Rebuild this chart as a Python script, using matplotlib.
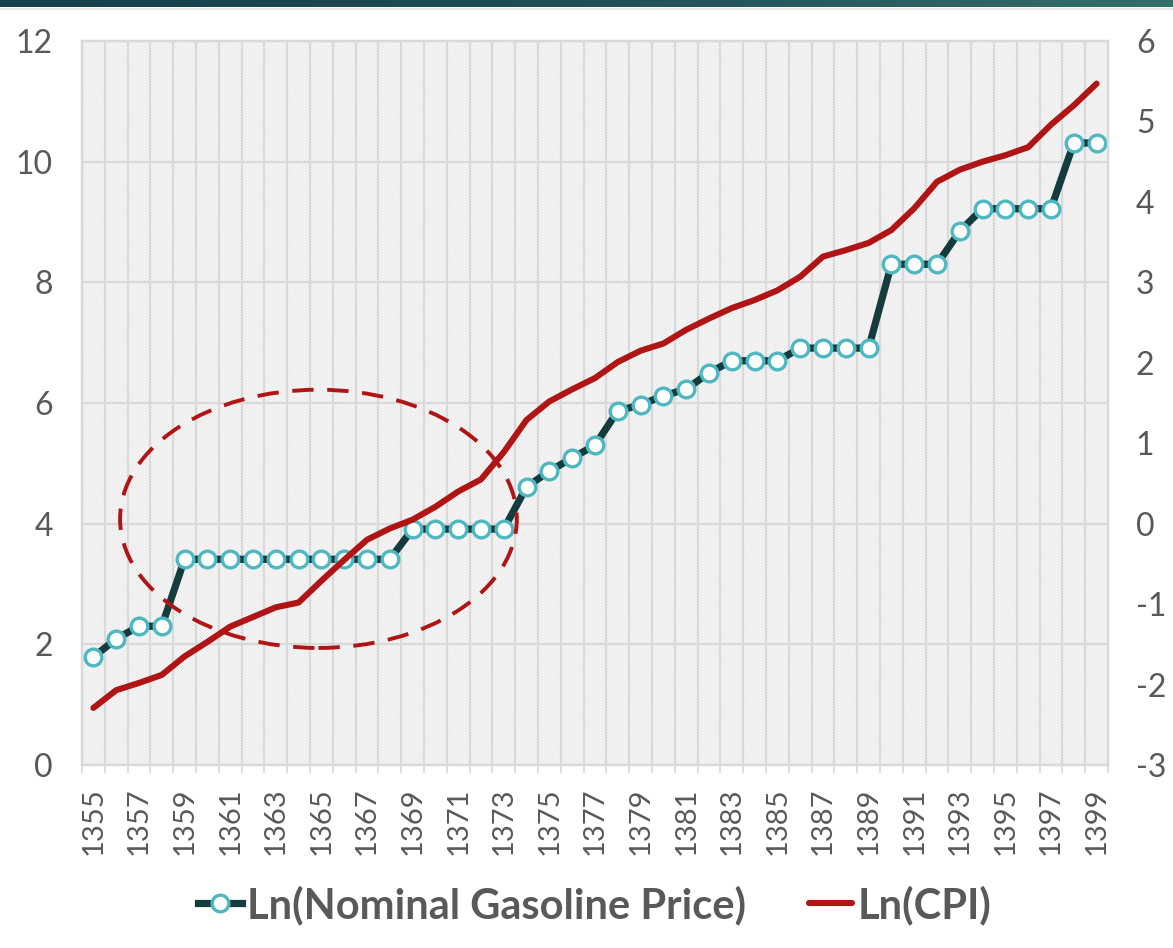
import numpy as np
import matplotlib
matplotlib.use('Agg')
import matplotlib.pyplot as plt
from matplotlib.patches import Ellipse, Rectangle
from matplotlib.colors import LinearSegmentedColormap

# Data
years = list(range(1355, 1400))
ln_gasoline = [1.79, 2.09, 2.30, 2.30, 3.41, 3.41, 3.41, 3.41, 3.41, 3.41,
               3.41, 3.41, 3.41, 3.41, 3.91, 3.91, 3.91, 3.91, 3.91, 4.61,
               4.87, 5.09, 5.30, 5.87, 5.97, 6.12, 6.23, 6.50, 6.70, 6.70,
               6.70, 6.91, 6.91, 6.91, 6.91, 8.30, 8.30, 8.30, 8.85, 9.22,
               9.22, 9.22, 9.22, 10.31, 10.31]
ln_cpi = [-2.29, -2.07, -1.98, -1.88, -1.65, -1.47, -1.28, -1.16, -1.04, -0.98,
          -0.71, -0.45, -0.20, -0.06, 0.05, 0.21, 0.40, 0.55, 0.89, 1.29,
          1.52, 1.67, 1.81, 2.01, 2.15, 2.24, 2.41, 2.55, 2.68, 2.78,
          2.90, 3.07, 3.32, 3.40, 3.49, 3.65, 3.92, 4.25, 4.40, 4.50,
          4.58, 4.68, 4.96, 5.20, 5.47]
left_ticks = [0, 2, 4, 6, 8, 10, 12]
right_ticks = [-3, -2, -1, 0, 1, 2, 3, 4, 5, 6]

font = ['Lato', 'DejaVu Sans']
plt.rcParams['font.family'] = font
plt.rcParams['axes.unicode_minus'] = False
plt.rcParams['hatch.linewidth'] = 0.6
plt.rcParams['hatch.color'] = '#DEDEDE'

W, H = 1173, 948
fig = plt.figure(figsize=(W / 100, H / 100), dpi=100)
fig.patch.set_facecolor('white')

# top gradient bar
bar = fig.add_axes([0, 1 - 7 / H, 1, 7 / H])
cmap = LinearSegmentedColormap.from_list('bar', ['#163E4C', '#1F4F58', '#356F69'])
bar.imshow(np.linspace(0, 1, 256)[None, :], aspect='auto', cmap=cmap)
bar.axis('off')
fig.add_artist(plt.Line2D([0, 1], [1 - 8.5 / H, 1 - 8.5 / H], color='#E3E3E3', lw=1.2))

ax = fig.add_axes([82 / W, 1 - 765 / H, (1108 - 82) / W, (765 - 41) / H])
ax2 = ax.twinx()

x = np.arange(len(years))
grid_c = '#D9D9D9'
text_c = '#595959'

# hatched plot background
ax.add_patch(Rectangle((0, 0), 1, 1, transform=ax.transAxes, facecolor='white',
                       edgecolor='#DEDEDE', hatch='\\' * 12, linewidth=0, zorder=0))

ax.set_xlim(-0.5, len(years) - 0.5)
ax.set_ylim(0, 12)
ax2.set_ylim(-3, 6)

ax.set_yticks(left_ticks)
ax2.set_yticks(right_ticks)
ax.set_xticks(x[::2])
ax.set_xticklabels([str(y) for y in years[::2]], rotation=90)
ax.set_xticks(np.arange(-0.5, len(years), 1), minor=True)

ax.set_axisbelow(True)
ax.grid(axis='y', color=grid_c, lw=1.6, zorder=1)
ax.grid(axis='x', which='minor', color=grid_c, lw=1.6, zorder=1)

for a in (ax, ax2):
    for s in a.spines.values():
        s.set_color(grid_c)
        s.set_linewidth(1.6)
ax.tick_params(axis='x', which='major', length=0, pad=16, labelsize=21, labelcolor=text_c)
ax.tick_params(axis='x', which='minor', length=6, width=1.2, color=grid_c)
ax.tick_params(axis='y', length=0, pad=21, labelsize=23, labelcolor=text_c)
ax2.tick_params(axis='y', length=0, pad=20, labelsize=23, labelcolor=text_c)

gas_line, = ax.plot(x, ln_gasoline, color='#143B3D', lw=5.2, marker='o', markersize=12,
                    markerfacecolor='white', markeredgecolor='#4DB8C2', markeredgewidth=2.4,
                    solid_joinstyle='round', zorder=3, label='Ln(Nominal Gasoline Price)')
cpi_line, = ax2.plot(x, ln_cpi, color='#B01414', lw=4.4, solid_capstyle='round',
                     solid_joinstyle='round', zorder=3, label='Ln(CPI)')

# dashed ellipse highlighting the flat period
ax2.add_patch(Ellipse((9.87, 4.08), 17.4, 4.28, transform=ax.transData, fill=False,
                      edgecolor='#B01414', lw=2.8, linestyle=(0, (5.5, 3.5)), zorder=4))

leg = fig.legend(handles=[gas_line, cpi_line], loc='center', bbox_to_anchor=(0.507, 1 - 905 / H),
                 ncol=2, frameon=False, handlelength=1.05, handletextpad=0.12, columnspacing=1.5,
                 numpoints=1, prop={'family': font, 'weight': 'bold', 'size': 30})
for t in leg.get_texts():
    t.set_color(text_c)

fig.savefig('out.png', dpi=100)
